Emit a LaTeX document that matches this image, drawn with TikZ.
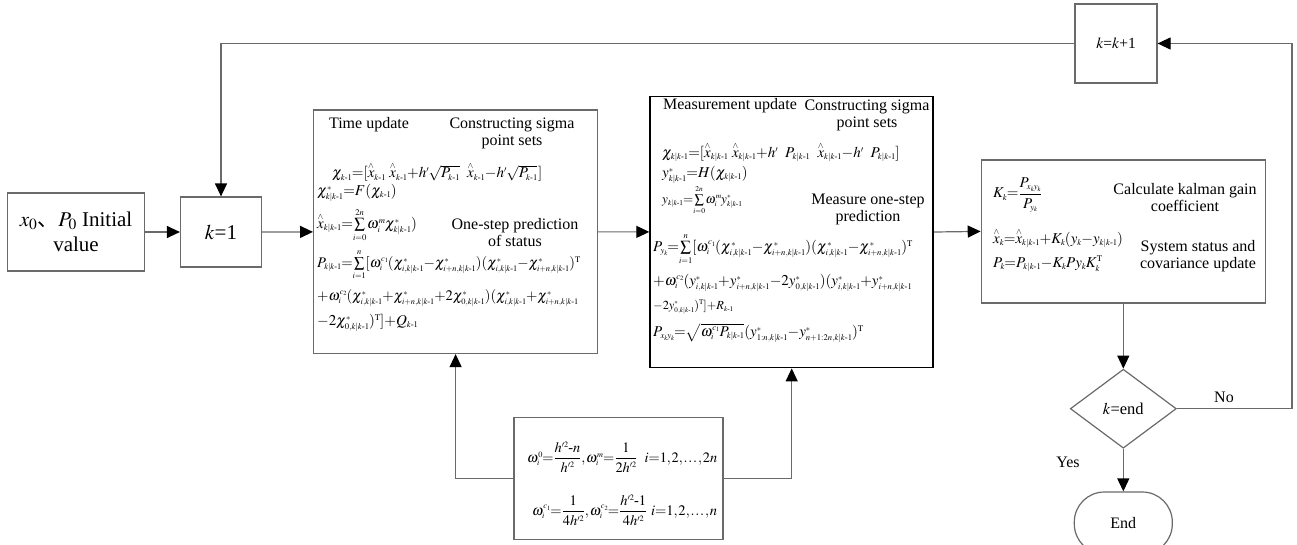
\documentclass[tikz,border=0pt]{standalone}
\usepackage{amsmath}
\usepackage{graphicx}
\usepackage{mathptmx}
\usepackage[no-math]{fontspec}
\setmainfont{Liberation Serif}
\newfontfamily\cjk{Noto Sans CJK SC}
\DeclareMathSizes{15}{15}{8.6}{6.6}
\usetikzlibrary{arrows.meta,shapes.geometric,calc}
\newcommand\kmo{k\text{-}1}
\newcommand\kkm{k|k\text{-}1}
\newcommand\xh{\overset{\wedge}{x}}
\newsavebox\myeqbox
\newcommand\eqfit[2]{\sbox\myeqbox{$\medmuskip=0mu\thickmuskip=0mu\thinmuskip=1mu\scriptspace=0pt #2$}\ifdim\wd\myeqbox>#1pt\resizebox{#1pt}{!}{\usebox\myeqbox}\else\usebox\myeqbox\fi}
\definecolor{lc}{HTML}{6A6A6A}
\begin{document}
\begin{tikzpicture}[x=1pt,y=-1pt,
  box/.style={draw=lc,line width=1.2pt,rectangle,inner sep=0pt},
  arr/.style={draw=lc,line width=1.2pt,-{Triangle[length=13pt,width=12pt,color=black,fill=black]}},
  lbl/.style={font=\fontsize{16}{17}\selectfont,align=center,inner sep=0pt},
  eqn/.style={anchor=west,inner sep=0pt,font=\fontsize{15}{17}\selectfont}]
\fill[white] (0,0) rectangle (1297,544);
\useasboundingbox (0,0) rectangle (1297,544);

% boxes
\node[box,minimum width=137pt,minimum height=78pt,font=\fontsize{21}{25}\selectfont,align=center] (init) at (76,232) {$x_0${\cjk 、}$P_0$ Initial\\value};
\node[box,minimum width=81pt,minimum height=70pt,font=\fontsize{21}{25}\selectfont] (k1) at (221,232) {$k$=1};
\node[box,minimum width=284pt,minimum height=243.5pt] (tu) at (455.6,231.75) {};
\node[draw=black,line width=1.8pt,rectangle,inner sep=0pt,minimum width=283pt,minimum height=271pt] (mu) at (791.7,232) {};
\node[box,minimum width=209pt,minimum height=122pt] (om) at (618.4,478.5) {};
\node[box,minimum width=284pt,minimum height=143pt] (kg) at (1123.3,231.4) {};
\node[box,minimum width=82pt,minimum height=79pt,font=\fontsize{15.5}{18}\selectfont] (kk) at (1116,43.5) {$k$=$k$+1};
\node[diamond,draw=lc,line width=1.2pt,inner sep=0pt,aspect=1.34,minimum width=106pt,minimum height=79pt,font=\fontsize{16.5}{18}\selectfont] (dec) at (1123.3,408.7) {$k$=end};
\node[draw=lc,line width=1.2pt,rounded corners=30pt,minimum width=98pt,minimum height=62pt,font=\fontsize{16}{18}\selectfont] (endn) at (1123.3,523) {End};

% labels
\node[lbl] (tut) at (369,125) {Time update};
\node[lbl] (tuc) at (512,133) {Constructing sigma\\point sets};
\node[lbl] (tuo) at (515,233) {One-step prediction\\of status};
\node[lbl] (mut) at (730,106) {Measurement update};
\node[lbl] (muc) at (867,115) {Constructing sigma\\point sets};
\node[lbl] (muo) at (868,209) {Measure one-step\\prediction};
\node[lbl] (kgc) at (1185,198) {Calculate kalman gain\\coefficient};
\node[lbl] (kgs) at (1198,256) {System status and\\covariance update};
\node[lbl] (no) at (1224,397) {No};
\node[lbl] (yes) at (1068,462) {Yes};

% time update equations
\node[eqn] (t1) at (332,172) {\eqfit{215}{\chi_{\kmo}=[\xh_{\kmo}\ \xh_{\kmo}+h'\sqrt{P_{\kmo}}\ \ \xh_{\kmo}-h'\sqrt{P_{\kmo}}\,]}};
\node[eqn] (t2) at (317,193) {\eqfit{90}{\chi^*_{\kkm}=F(\chi_{\kmo})}};
\node[eqn] (t3) at (317,225) {\eqfit{106}{\xh_{\kkm}=\sum\limits_{i=0}^{2n}\omega_i^m\chi^*_{\kkm})}};
\node[eqn] (t4) at (317,265) {\eqfit{263}{P_{\kkm}=\sum\limits_{i=1}^{n}[\omega_i^{c_1}(\chi^*_{i,\kkm}-\chi^*_{i+n,\kkm})(\chi^*_{i,\kkm}-\chi^*_{i+n,\kkm})^{\mathrm{T}}}};
\node[eqn] (t5) at (317,298) {\eqfit{261}{+\omega_i^{c_2}(\chi^*_{i,\kkm}+\chi^*_{i+n,\kkm}+2\chi^*_{0,\kkm})(\chi^*_{i,\kkm}+\chi^*_{i+n,\kkm}}};
\node[eqn] (t6) at (317,323) {\eqfit{105}{-2\chi^*_{0,\kkm})^{\mathrm{T}}]+Q_{\kmo}}};

% measurement update equations
\node[eqn] (m1) at (662,152) {\eqfit{261}{\chi_{\kkm}=[\xh_{\kkm}\ \xh_{\kkm}+h'\ \ P_{\kkm}\ \ \xh_{\kkm}-h'\ \ P_{\kkm}]}};
\node[eqn] (m2) at (662,175) {\eqfit{90}{y^*_{\kkm}=H(\chi_{\kkm})}};
\node[eqn] (m3) at (662,200) {\eqfit{80}{y_{\kkm}=\sum\limits_{i=0}^{2n}\omega_i^m y^*_{\kkm}}};
\node[eqn] (m4) at (653,249) {\eqfit{265}{P_{y_k}=\sum\limits_{i=1}^{n}[\omega_i^{c_1}(\chi_{i,\kkm}^{\,*}-\chi_{i+n,\kkm}^{\,*})(\chi_{i,\kkm}^{\,*}-\chi_{i+n,\kkm}^{\,*})^{\mathrm{T}}}};
\node[eqn] (m5) at (653,283) {\eqfit{270}{+\omega_i^{c_2}(y^*_{i,\kkm}+y^*_{i+n,\kkm}-2y^*_{0,\kkm})(y^*_{i,\kkm}+y^*_{i+n,\kkm}}};
\node[eqn] (m6) at (653,307) {\eqfit{80}{-2y^*_{0,\kkm})^{\mathrm{T}}]+R_{\kmo}}};
\node[eqn] (m7) at (653,333) {\eqfit{240}{P_{x_ky_k}=\sqrt{\omega_i^{c_1}P_{\kkm}}(y^*_{1:n,\kkm}-y^*_{n+1:2n,\kkm})^{\mathrm{T}}}};

% kalman gain equations
\node[eqn] (g1) at (993,195) {\eqfit{70}{K_k=\dfrac{P_{x_ky_k}}{P_{y_k}}}};
\node[eqn] (g2) at (993,238) {\eqfit{140}{\xh_k=\xh_{\kkm}+K_k(y_k-y_{\kkm})}};
\node[eqn] (g3) at (993,264) {\eqfit{125}{P_k=P_{\kkm}-K_kPy_kK_k^{\mathrm{T}}}};

% weights
\node[eqn] (o1) at (527,457) {\eqfit{190}{\omega_i^0=\dfrac{h'^2\text{-}n}{h'^2},\omega_i^m=\dfrac{1}{2h'^2}\ \ i=1,2,\dots,2n}};
\node[eqn] (o2) at (532,510) {\eqfit{185}{\omega_i^{c_1}=\dfrac{1}{4h'^2},\omega_i^{c_2}=\dfrac{h'^2\text{-}1}{4h'^2}\ i=1,2,\dots,n}};

% connectors
\coordinate (cR) at (1292,0);
\draw[arr] (init) -- (k1);
\draw[arr] (k1) -- (tu);
\draw[arr] (tu) -- (mu);
\draw[arr] (mu.east) -- (kg.west);
\draw[arr] (kg) -- (dec);
\draw[arr] (dec) -- (endn);
\draw[arr] (dec.east) -- (dec.east -| cR) -- (kk.east -| cR) -- (kk.east);
\draw[arr] (kk.west) -| (k1.north);
\draw[arr] (om.west) -| (tu.south);
\draw[arr] (om.east) -| (mu.south);
\end{tikzpicture}
\end{document}
